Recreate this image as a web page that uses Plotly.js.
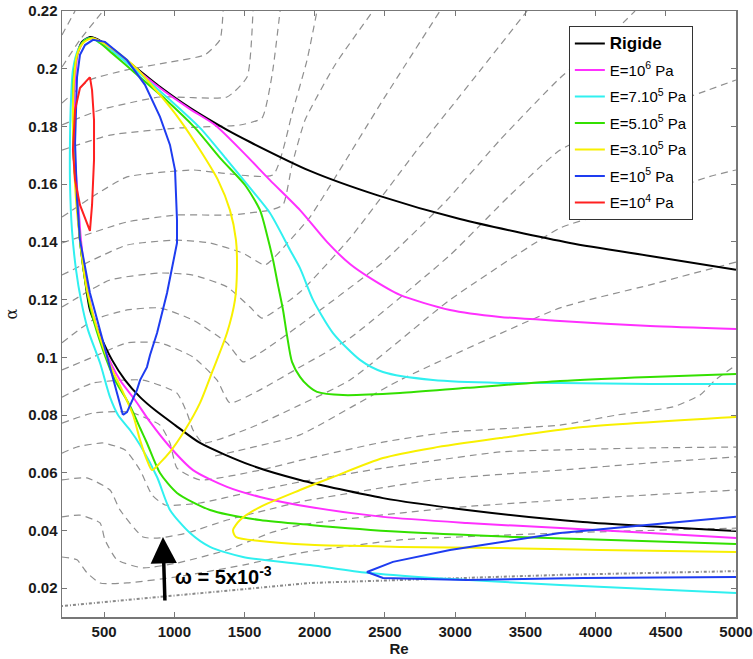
<!DOCTYPE html>
<html><head><meta charset="utf-8">
<script src="https://cdn.plot.ly/plotly-3.0.1.min.js"></script>
<style>html,body{margin:0;padding:0;background:#fff}#chart{width:753px;height:659px}</style>
</head><body><div id="chart"></div>
<script>
// ---- Neutral stability curves (Re, alpha) ----
const rigideRe = [5000,4388,3818,3034,2443,1966,1539,1375,1112,898,684,542,435,399,342,307,285,278,285,307,328,364,399,471,556,649,756,862,1005,1183,1539,1895,2486,3084,3910,5000];
const rigideAlpha = [0.1303,0.1351,0.1396,0.1479,0.1562,0.1646,0.1746,0.1788,0.1864,0.1937,0.2020,0.2075,0.2106,0.2110,0.2093,0.2048,0.1961,0.1822,0.1684,0.1545,0.1407,0.1268,0.1164,0.1077,0.0991,0.0921,0.0862,0.0817,0.0765,0.0703,0.0627,0.0575,0.0512,0.0471,0.0429,0.0398];

const e1e6Re = [5000,4388,3747,3319,2963,2607,2393,2251,2087,1895,1681,1489,1290,1112,898,684,542,435,414,357,314,293,285,293,314,335,371,421,506,613,720,827,969,1133,1375,1610,1966,2486,3084,3747,4388,5000];
const e1e6Alpha = [0.1098,0.1108,0.1126,0.1140,0.1164,0.1216,0.1275,0.1323,0.1400,0.1510,0.1614,0.1711,0.1805,0.1860,0.1933,0.2016,0.2072,0.2103,0.2106,0.2096,0.2054,0.1961,0.1822,0.1684,0.1545,0.1407,0.1268,0.1147,0.1025,0.0921,0.0852,0.0776,0.0689,0.0609,0.0551,0.0516,0.0481,0.0447,0.0426,0.0408,0.0391,0.0374];

const e7e5Re = [5000,4388,3747,3319,2842,2486,2322,2130,1988,1895,1824,1681,1539,1375,1183,969,756,577,471,414,364,314,278,264,257,257,271,300,335,385,471,542,599,684,756,877,969,1112,1254,1489,1966,2372,2842,3747,5000];
const e7e5Alpha = [0.0907,0.0907,0.0911,0.0911,0.0921,0.0949,0.0991,0.1084,0.1199,0.1309,0.1372,0.1500,0.1587,0.1684,0.1795,0.1892,0.1982,0.2054,0.2089,0.2106,0.2100,0.2065,0.1996,0.1892,0.1753,0.1604,0.1441,0.1303,0.1199,0.1095,0.0980,0.0862,0.0800,0.0748,0.0696,0.0585,0.0471,0.0391,0.0343,0.0308,0.0280,0.0253,0.0235,0.0211,0.0183];

const e5e5Re = [5000,4388,3747,3084,2607,2201,2016,1952,1895,1838,1802,1774,1738,1703,1660,1610,1503,1325,1147,934,720,556,471,414,357,314,285,278,285,307,328,364,414,492,577,649,699,756,805,898,1019,1254,1610,1966,2607,3440,5000];
const e5e5Alpha = [0.0942,0.0932,0.0918,0.0894,0.0876,0.0869,0.0880,0.0901,0.0932,0.0984,0.1077,0.1164,0.1251,0.1337,0.1424,0.1510,0.1597,0.1691,0.1795,0.1895,0.1985,0.2054,0.2089,0.2106,0.2096,0.2058,0.1978,0.1822,0.1684,0.1545,0.1407,0.1268,0.1147,0.1025,0.0921,0.0862,0.0817,0.0755,0.0703,0.0599,0.0530,0.0471,0.0436,0.0419,0.0395,0.0377,0.0353];

const e3e5LoopRe = [414,542,720,898,1040,1183,1311,1396,1439,1446,1432,1375,1275,1183,1076,969,898,841,805,756,706,627,542,442,371,328,300,285,278,285,307,350,414];
const e3e5LoopAlpha = [0.2106,0.2075,0.2006,0.1909,0.1822,0.1718,0.1614,0.1510,0.1406,0.1303,0.1199,0.1084,0.0956,0.0842,0.0748,0.0672,0.0634,0.0609,0.0644,0.0713,0.0800,0.0887,0.0973,0.1112,0.1251,0.1407,0.1545,0.1684,0.1822,0.1961,0.2048,0.2089,0.2106];
const e3e5LowRe = [5000,3910,3319,2842,2486,2130,1895,1610,1468,1418,1439,1610,1966,2607,3319,4032,5000];
const e3e5LowAlpha = [0.0793,0.0758,0.0720,0.0686,0.0651,0.0585,0.0540,0.0481,0.0436,0.0401,0.0377,0.0363,0.0350,0.0343,0.0339,0.0332,0.0325];

const e1e5LoopRe = [634,592,492,399,328,307,293,300,307,328,364,421,506,663,791,898,969,1005,1019,1019,983,948,877,827,805,756,734,699,663,634];
const e1e5LoopAlpha = [0.0800,0.0876,0.1050,0.1223,0.1407,0.1545,0.1743,0.1892,0.1971,0.2048,0.2082,0.2100,0.2093,0.2030,0.1944,0.1833,0.1736,0.1649,0.1476,0.1396,0.1303,0.1223,0.1084,0.1008,0.0966,0.0921,0.0887,0.0852,0.0810,0.0800];
const e1e5LowRe = [5000,4388,3747,2963,2557,2372,2486,3084,3910,5000];
const e1e5LowAlpha = [0.0447,0.0419,0.0391,0.0332,0.0291,0.0256,0.0235,0.0228,0.0235,0.0239];

const e1e4Re = [399,328,293,278,293,328,399,414,428,428,414,399];
const e1e4Alpha = [0.1971,0.1933,0.1857,0.1718,0.1614,0.1528,0.1438,0.1528,0.1684,0.1822,0.1926,0.1971];

// dash-dot boundary line near the bottom
const floorRe = [200,898,1966,3747,5000];
const floorAlpha = [0.0138,0.0169,0.0218,0.0246,0.0259];

// ---- dashed iso-frequency lines, [Re, alpha] pairs ----
const cT0 = [[200,0.2117],[293,0.2200]];
const cT1 = [[200,0.2006],[328,0.2100],[492,0.2200]];
const cT2 = [[200,0.1881],[399,0.1961],[663,0.1996],[969,0.2023],[1218,0.2048],[1325,0.2100],[1347,0.2200]];
const cT3 = [[200,0.1805],[471,0.1857],[898,0.1902],[1375,0.1902],[1518,0.1971],[1560,0.2200]];
const cT4 = [[200,0.1718],[542,0.1770],[1040,0.1795],[1468,0.1805],[1624,0.1829],[1696,0.1978],[1753,0.2200]];
const cT5 = [[200,0.1486],[435,0.1562],[663,0.1625],[1133,0.1649],[1325,0.1639],[1703,0.1632],[1845,0.1857],[1945,0.2030],[2016,0.2200]];
const cT6 = [[200,0.1396],[663,0.1469],[1019,0.1493],[1396,0.1493],[1681,0.1510],[1774,0.1528],[1838,0.1666],[1931,0.1822],[2144,0.2013],[2415,0.2200]];
const cT7 = [[200,0.1285],[663,0.1389],[1019,0.1406],[1254,0.1396],[1489,0.1361],[1646,0.1320],[1824,0.1406],[1966,0.1486],[2486,0.1892],[2892,0.2200]];
const cT8 = [[200,0.1174],[542,0.1268],[898,0.1292],[1133,0.1285],[1375,0.1244],[1539,0.1174],[1624,0.1136],[1895,0.1226],[2251,0.1413],[2728,0.1718],[3198,0.2006],[3512,0.2200]];
const cT9 = [[200,0.1050],[421,0.1129],[663,0.1164],[898,0.1171],[1133,0.1129],[1375,0.1050],[1489,0.0984],[1610,0.1015],[1895,0.1112],[2486,0.1330],[2942,0.1545],[3319,0.1753],[3747,0.1968],[4032,0.2082],[4281,0.2200]];
const cT10 = [[200,0.0956],[421,0.1001],[663,0.1050],[898,0.1050],[1133,0.1001],[1304,0.0921],[1396,0.0842],[1610,0.0887],[1895,0.0966],[2251,0.1067],[2963,0.1354],[3391,0.1562],[3747,0.1718],[4316,0.1840],[4801,0.1926],[5000,0.1961]];
const cT11 = [[200,0.0862],[421,0.0911],[777,0.0921],[1019,0.0876],[1090,0.0807],[1133,0.0748],[1204,0.0703],[1539,0.0755],[1895,0.0835],[2251,0.0921],[2963,0.1199],[3747,0.1448],[4032,0.1493],[4801,0.1625],[5000,0.1649]];
const cT11b = [[1290,0.0658],[1539,0.0686],[1895,0.0731],[2607,0.0921],[3747,0.1171],[4388,0.1251],[5000,0.1330]];
const cT12 = [[200,0.0772],[421,0.0807],[684,0.0810],[898,0.0765],[969,0.0703],[1019,0.0616],[1183,0.0575],[1610,0.0609],[1966,0.0651],[2486,0.0706],[2963,0.0741],[3747,0.0765],[4153,0.0800],[4551,0.0828],[4744,0.0869],[4851,0.0921],[5000,0.0973]];
const cT13 = [[200,0.0668],[307,0.0689],[492,0.0703],[649,0.0679],[756,0.0609],[841,0.0523],[934,0.0488],[1183,0.0495],[1539,0.0533],[1895,0.0568],[2486,0.0616],[3319,0.0672],[3747,0.0679],[4388,0.0686],[5000,0.0689]];
const cW = [[200,0.0575],[378,0.0582],[542,0.0540],[613,0.0471],[777,0.0377],[898,0.0374],[1090,0.0391],[1375,0.0436],[1660,0.0471],[1895,0.0499],[2842,0.0575],[3747,0.0609],[4388,0.0634],[5000,0.0655]];
const cX1 = [[200,0.0447],[328,0.0453],[471,0.0426],[506,0.0367],[592,0.0298],[777,0.0270],[1019,0.0287],[1375,0.0332],[1681,0.0391],[1895,0.0419],[2963,0.0478],[3747,0.0505],[5000,0.0540]];
const cX2 = [[200,0.0308],[307,0.0298],[378,0.0253],[471,0.0218],[663,0.0218],[1019,0.0239],[1489,0.0280],[1895,0.0322],[2607,0.0367],[3747,0.0391],[5000,0.0408]];

const xTickVals = [500,1000,1500,2000,2500,3000,3500,4000,4500,5000];
const yTickVals = [0.02,0.04,0.06,0.08,0.1,0.12,0.14,0.16,0.18,0.2,0.22];
const yTickText = ['0.02','0.04','0.06','0.08','0.1','0.12','0.14','0.16','0.18','0.2','0.22'];

const FONT = 'Liberation Sans, Arial, Helvetica, sans-serif';
const traces = [];
[cT0,cT1,cT2,cT3,cT4,cT5,cT6,cT7,cT8,cT9,cT10,cT11,cT11b,cT12,cT13,cW,cX1,cX2].forEach(c => {
  traces.push({x:c.map(p=>p[0]), y:c.map(p=>p[1]), mode:'lines', showlegend:false, hoverinfo:'skip',
    line:{color:'#8f8f8f', width:1.2, dash:'7px,5px', shape:'spline', smoothing:0.5}});
});
traces.push({x:floorRe, y:floorAlpha, mode:'lines', showlegend:false, hoverinfo:'skip',
  line:{color:'#8a8a8a', width:2, dash:'1px,2px,3px,2px'}});

function curve(x, y, color, name, group, show, smooth){
  return {x:x, y:y, mode:'lines', name:name, legendgroup:group, showlegend:show,
    line:{color:color, width:2, shape: smooth ? 'spline' : 'linear', smoothing:0.7}};
}
traces.push(curve(rigideRe, rigideAlpha, '#000000', '<b><span style="font-size:17px">Rigide</span></b>', 'g0', true, true));
traces.push(curve(e1e6Re, e1e6Alpha, '#ff30ff', 'E=10<sup>6</sup> Pa', 'g1', true, true));
traces.push(curve(e7e5Re, e7e5Alpha, '#30f0f0', 'E=7.10<sup>5</sup> Pa', 'g2', true, true));
traces.push(curve(e5e5Re, e5e5Alpha, '#33e000', 'E=5.10<sup>5</sup> Pa', 'g3', true, true));
traces.push(curve(e3e5LoopRe, e3e5LoopAlpha, '#f8f000', 'E=3.10<sup>5</sup> Pa', 'g4', true, true));
traces.push(curve(e3e5LowRe, e3e5LowAlpha, '#f8f000', 'E=3.10<sup>5</sup> Pa', 'g4', false, true));
traces.push(curve(e1e5LoopRe, e1e5LoopAlpha, '#1e3cf0', 'E=10<sup>5</sup> Pa', 'g5', true, false));
traces.push(curve(e1e5LowRe, e1e5LowAlpha, '#1e3cf0', 'E=10<sup>5</sup> Pa', 'g5', false, false));
traces.push(curve(e1e4Re, e1e4Alpha, '#ff2020', 'E=10<sup>4</sup> Pa', 'g6', true, false));

const axisCommon = {showgrid:false, zeroline:false, showline:true, linecolor:'#777', linewidth:1.5,
  mirror:'ticks', ticks:'inside', ticklen:5, tickcolor:'#777',
  tickfont:{family:FONT, size:15, weight:'bold', color:'#1a1a1a'}};

const layout = {
  width:753, height:659,
  margin:{l:62, r:17, t:11, b:42},
  paper_bgcolor:'#fff', plot_bgcolor:'#fff',
  font:{family:FONT},
  xaxis:Object.assign({}, axisCommon, {range:[200,5000], tickvals:xTickVals,
    title:{text:'<b>Re</b>', font:{family:FONT, size:15, color:'#1a1a1a'}, standoff:2}}),
  yaxis:Object.assign({}, axisCommon, {range:[0.01,0.22], tickvals:yTickVals, ticktext:yTickText,
    title:{text:'α', font:{family:'DejaVu Serif, serif', size:16, color:'#1a1a1a'}, standoff:6}}),
  legend:{x:0.752, y:0.975, xanchor:'left', yanchor:'top', bgcolor:'#fff', bordercolor:'#333', borderwidth:1,
    font:{family:FONT, size:15, color:'#000'}, tracegroupgap:4, itemwidth:30},
  showlegend:true,
  annotations:[
    {x:919, y:0.0377, xref:'x', yref:'y', ax:2, ay:65, text:'', showarrow:true,
     arrowhead:2, arrowsize:1.5, arrowwidth:3.5, arrowcolor:'#000'},
    {x:990, y:0.0245, xref:'x', yref:'y', xanchor:'left', yanchor:'middle', showarrow:false,
     text:'<b>ω = 5x10<sup>-3</sup></b>', font:{family:FONT, size:20, color:'#000'}}
  ]
};

Plotly.newPlot('chart', traces, layout, {displayModeBar:false, staticPlot:true});
</script></body></html>
